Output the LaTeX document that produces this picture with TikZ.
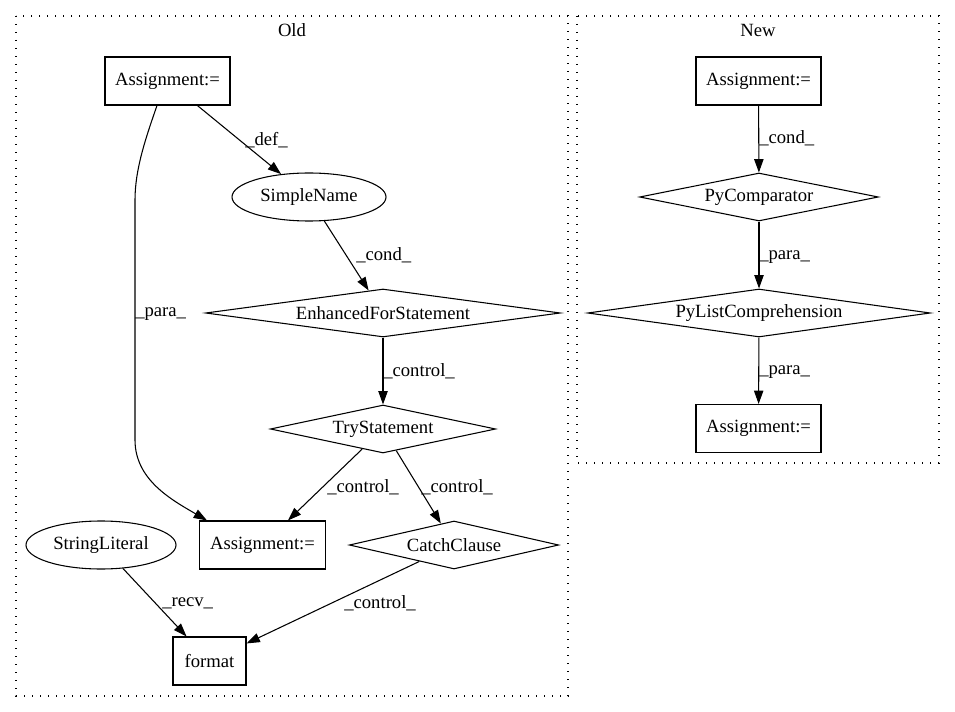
\documentclass[tikz,border=0pt]{standalone}
\usepackage{fontspec}
\setmainfont{Liberation Serif}
\usetikzlibrary{shapes.geometric,arrows.meta,calc}
\begin{document}
\begin{tikzpicture}[x=0.75pt,y=-0.75pt,
  every node/.style={font=\fontsize{14}{16}\selectfont, inner sep=0pt},
  boxnode/.style={draw, line width=0.8pt, rectangle, minimum height=36pt},
  ellnode/.style={draw, line width=0.8pt, ellipse, minimum height=36pt},
  dianode/.style={draw, line width=0.8pt, diamond, minimum height=36pt},
  lbl/.style={anchor=west},
  conn/.style={line width=0.8pt, -{Triangle[length=10pt,width=7pt]}},
  clusterbox/.style={line width=0.8pt, dash pattern=on 1pt off 5pt}
]
\useasboundingbox (0,0) rectangle (955,712);
% clusters
\draw[clusterbox] (16,16) rectangle (568,696);
\draw[clusterbox] (577,16) rectangle (939,463);
\node (oldlbl) at (292,30) {Old};
\node (newlbl) at (758,30) {New};
% Old nodes
\node[boxnode, minimum width=93.75pt] (a1) at (167.5,81) {Assignment:=};
\node[ellnode, minimum width=115.5pt] (sn) at (309,197) {SimpleName};
\node[dianode, minimum width=266pt, shape aspect=7.39] (efs) at (383,313) {EnhancedForStatement};
\node[dianode, minimum width=169pt, shape aspect=4.69] (try) at (383,429) {TryStatement};
\node[boxnode, minimum width=94.5pt] (a2) at (262.5,545) {Assignment:=};
\node[dianode, minimum width=157pt, shape aspect=4.36] (catch) at (454,545) {CatchClause};
\node[ellnode, minimum width=112.5pt] (sl) at (101,545) {StringLiteral};
\node[boxnode, minimum width=54.75pt] (fmt) at (209.5,661) {format};
% New nodes
\node[boxnode, minimum width=93.75pt] (b1) at (758.5,81) {Assignment:=};
\node[dianode, minimum width=179pt, shape aspect=4.97] (pyc) at (759,197) {PyComparator};
\node[dianode, minimum width=257pt, shape aspect=7.14] (pyl) at (759,313) {PyListComprehension};
\node[boxnode, minimum width=93.75pt] (b2) at (758.5,428.5) {Assignment:=};
% Old edges
\draw[conn] (a1) -- (sn);
\node[lbl] (l1) at (245,140) {\_def\_};
\draw[conn] (sn) -- (efs);
\node[lbl] (l2) at (356,255) {\_cond\_};
\draw[conn] (efs) -- (try);
\node[lbl] (l3) at (383,371) {\_control\_};
\draw[conn] (try) -- (a2);
\node[lbl] (l4) at (327,487) {\_control\_};
\draw[conn] (try) -- (catch);
\node[lbl] (l5) at (421,487) {\_control\_};
\draw[conn] (catch) -- (fmt);
\node[lbl] (l6) at (344,603) {\_control\_};
\draw[conn] (sl) -- (fmt);
\node[lbl] (l7) at (162,603) {\_recv\_};
\draw[conn] ($(a1.south)+(-10.5,0)$) .. controls (145,140) and (135,170) .. (135,200)
  -- (135,440) .. controls (135,480) and (172,500) .. ($(a2.north)+(-55.5,0)$);
\node[lbl] (l8) at (135,314) {\_para\_};
% New edges
\draw[conn] (b1) -- (pyc);
\node[lbl] (l9) at (759,138) {\_cond\_};
\draw[conn] (pyc) -- (pyl);
\node[lbl] (l10) at (759,257) {\_para\_};
\draw[conn] (pyl) -- (b2);
\node[lbl] (l11) at (759,372) {\_para\_};
\end{tikzpicture}
\end{document}
